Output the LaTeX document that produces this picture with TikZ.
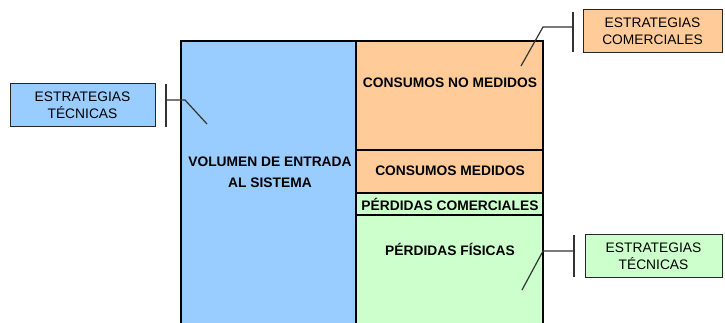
\documentclass[tikz,border=0pt]{standalone}
\usepackage{fontspec}
\setmainfont{Liberation Sans}
\usetikzlibrary{positioning}
\definecolor{azul}{HTML}{99CCFF}
\definecolor{naranja}{HTML}{FFCC99}
\definecolor{verde}{HTML}{CCFFCC}

\tikzset{
  etiqueta/.style={draw=black!85, line width=1pt, align=center, inner sep=0pt,
    minimum height=43, font=\fontsize{13.8}{17}\selectfont},
  zona/.style={align=center, font=\bfseries\fontsize{13.8}{21}\selectfont},
  guia/.style={draw=black!80, line width=1.2pt}
}

\begin{document}
\begin{tikzpicture}[x=1pt, y=-1pt]
  \useasboundingbox (0,0) rectangle (725,323);

  % regiones del balance
  \fill[azul] (181,41) rectangle (356,326);
  \fill[naranja] (356,41) rectangle (543,193);
  \fill[verde] (356,193) rectangle (543,326);
  \draw[line width=2pt] (356,41) -- (356,326);
  \draw[line width=2pt] (356,150) -- (543,150);
  \draw[line width=2pt] (356,193) -- (543,193);
  \draw[line width=2pt] (356,215) -- (543,215);
  \draw[line width=2pt] (181,326) -- (181,41) -- (543,41) -- (543,326);

  \node[zona] (volumen) at (270,172) {VOLUMEN DE ENTRADA\\AL SISTEMA};
  \node[zona] (noMedidos) at (450,83) {CONSUMOS NO MEDIDOS};
  \node[zona] (medidos) at (450,171) {CONSUMOS MEDIDOS};
  \node[zona] (comerciales) at (450,204.5) {PÉRDIDAS COMERCIALES};
  \node[zona] (fisicas) at (450,249) {PÉRDIDAS FÍSICAS};

  % etiquetas de estrategias
  \node[etiqueta, fill=azul, minimum width=145] (estTecA) at (82.5,105.5) {ESTRATEGIAS\\TÉCNICAS};
  \node[etiqueta, fill=naranja, minimum width=139] (estCom) at (652.5,31.5) {ESTRATEGIAS\\COMERCIALES};
  \node[etiqueta, fill=verde, minimum width=137] (estTecB) at (653.5,256) {ESTRATEGIAS\\TÉCNICAS};

  % corchetes y guias
  \coordinate (cA1) at (166,84);
  \coordinate (cA2) at (166,127);
  \coordinate (cA) at (166,100);
  \coordinate (qA) at (185,100);
  \coordinate (pA) at (207,124);
  \draw[guia] (cA1) -- (cA2);
  \draw[guia] (cA) -- (qA) -- (pA);

  \coordinate (cB1) at (573,12);
  \coordinate (cB2) at (573,52);
  \coordinate (cB) at (573,27);
  \coordinate (qB) at (543,27);
  \coordinate (pB) at (521,66);
  \draw[guia] (cB1) -- (cB2);
  \draw[guia] (cB) -- (qB) -- (pB);

  \coordinate (cC1) at (574,235);
  \coordinate (cC2) at (574,277);
  \coordinate (cC) at (574,251);
  \coordinate (qC) at (543,251);
  \coordinate (pC) at (522,290);
  \draw[guia] (cC1) -- (cC2);
  \draw[guia] (cC) -- (qC) -- (pC);
\end{tikzpicture}
\end{document}
